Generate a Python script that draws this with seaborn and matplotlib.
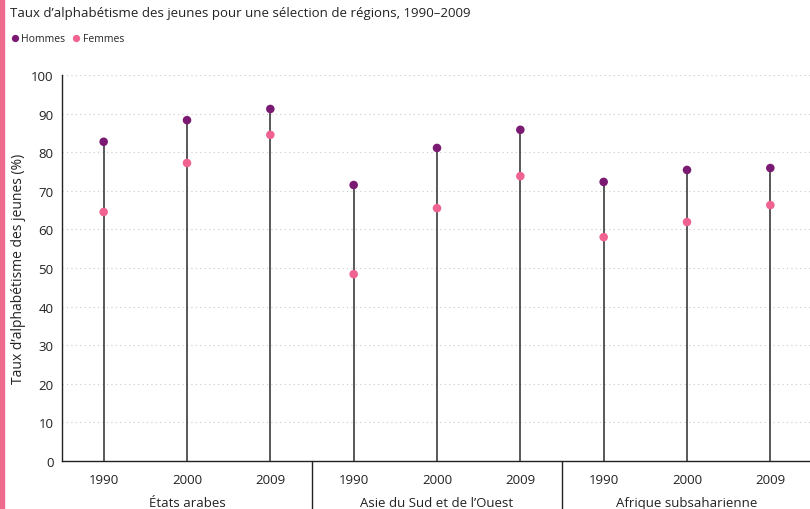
import matplotlib
matplotlib.use("Agg")
import matplotlib.pyplot as plt
import matplotlib.transforms as mtransforms
from matplotlib.patches import Rectangle
import pandas as pd
import seaborn as sns

# data
regions = ["États arabes", "Asie du Sud et de l’Ouest", "Afrique subsaharienne"]
years = ["1990", "2000", "2009"]
hommes = [82.7, 88.3, 91.2, 71.5, 81.1, 85.8, 72.3, 75.4, 75.9]
femmes = [64.5, 77.2, 84.5, 48.4, 65.5, 73.8, 58.0, 61.9, 66.3]

purple = "#7b1a72"
pink = "#f06390"

sns.set_theme(style="white")
plt.rcParams['font.family'] = ['Open Sans', 'DejaVu Sans']

pos = list(range(len(hommes)))
df = pd.DataFrame({
    "pos": pos + pos,
    "val": hommes + femmes,
    "sexe": ["Hommes"] * len(hommes) + ["Femmes"] * len(femmes),
})

W, H = 810, 510
fig = plt.figure(figsize=(W / 100, H / 100), dpi=100)
ax = fig.add_axes([62 / W, (H - 462) / H, 750 / W, (462 - 76) / H])

# stems from 0 to the men's value
ax.vlines(pos, 0, hommes, color="#2b2b2b", lw=1.1, zorder=2)

sns.scatterplot(data=df, x="pos", y="val", hue="sexe",
                palette={"Hommes": purple, "Femmes": pink},
                s=38, edgecolor="none", ax=ax, zorder=3)

ax.set_xlim(-0.5, len(hommes) - 0.5)
ax.set_ylim(0, 100)
ax.set_yticks(range(0, 101, 10))
for v in range(10, 101, 10):
    ax.axhline(v, color="#c8c8c8", lw=0.8, ls=(0, (1, 3)), zorder=1)

ax.set_xticks(pos)
ax.set_xticklabels(years * len(regions))
ax.tick_params(axis="both", labelsize=9.5, colors="#222222", length=0, pad=6)
ax.tick_params(axis="x", pad=9)
ax.set_xlabel("")
ax.set_ylabel("Taux d’alphabétisme des jeunes (%)", fontsize=10, color="#222222", labelpad=4)

for side in ["top", "right"]:
    ax.spines[side].set_visible(False)
for side in ["left", "bottom"]:
    ax.spines[side].set_color("#222222")
    ax.spines[side].set_linewidth(1.0)

# group separators and labels below the axis
trans = mtransforms.blended_transform_factory(ax.transData, ax.transAxes)
for i in range(1, len(regions)):
    x = i * len(years) - 0.5
    ax.plot([x, x], [0, -0.13], transform=trans, color="#222222", lw=1.0, clip_on=False)
for i, name in enumerate(regions):
    xc = i * len(years) + 1
    ax.text(xc, -0.108, name, transform=trans, ha="center", va="center",
            fontsize=9.5, color="#222222")

sns.move_legend(ax, loc="center left", bbox_to_anchor=(2 / W, 1 - 40 / H),
                bbox_transform=fig.transFigure, ncol=2, frameon=False, title=None,
                fontsize=7.5, handlelength=0.6, handletextpad=0.3,
                columnspacing=0.8, markerscale=0.85)

fig.text(10 / W, 1 - 14 / H, "Taux d’alphabétisme des jeunes pour une sélection de régions, 1990–2009",
         fontsize=9.5, color="#222222", va="center", ha="left")

fig.patches.append(Rectangle((0, 0), 4 / W, 1, transform=fig.transFigure,
                             color="#ee6a8f", zorder=0))

fig.savefig("out.png", dpi=100)
